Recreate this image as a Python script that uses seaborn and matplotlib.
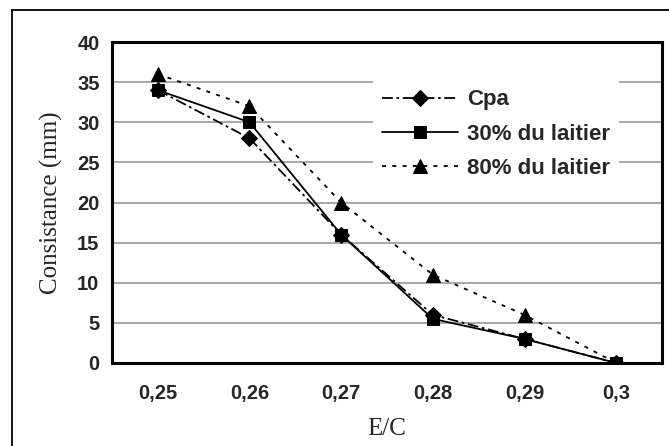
import matplotlib
matplotlib.use("Agg")
import matplotlib.pyplot as plt
import seaborn as sns
import pandas as pd
from matplotlib import patches

ec_labels = ["0,25", "0,26", "0,27", "0,28", "0,29", "0,3"]
cpa = [34, 28, 16, 6, 3, 0]
laitier30 = [34, 30, 16, 5.5, 3, 0]
laitier80 = [36, 32, 20, 11, 6, 0]
series = ["Cpa", "30% du laitier", "80% du laitier"]

df = pd.DataFrame({
    "pos": list(range(len(ec_labels))) * 3,
    "val": cpa + laitier30 + laitier80,
    "serie": [s for s in series for _ in ec_labels],
})

sns.set_style("white")
plt.rcParams["font.family"] = ["Liberation Sans", "DejaVu Sans"]

fig = plt.figure(figsize=(6.69, 4.46), dpi=100)
ax = fig.add_axes([112 / 669, 1 - 363 / 446, 550 / 669, 321 / 446])

# outer chart frame (cropped on the right and bottom)
fig.patches.append(patches.Rectangle((12 / 669, -0.1), 1.2, 1 - 10 / 446 + 0.1,
                                     transform=fig.transFigure, fill=False,
                                     edgecolor="black", linewidth=1.3))

sns.lineplot(df, x="pos", y="val", hue="serie", style="serie",
             hue_order=series, style_order=series,
             palette=["black"] * 3,
             dashes={"Cpa": (6, 2, 1.5, 2), "30% du laitier": "", "80% du laitier": (2.2, 3.5)},
             markers={"Cpa": "D", "30% du laitier": "s", "80% du laitier": "^"},
             markersize=9, linewidth=1.3, markeredgecolor="black", ax=ax)

msize = {"D": 8, "s": 8.5, "^": 10.5}
for ln in ax.lines:
    m = ln.get_marker()
    if m in msize:
        ln.set_markersize(msize[m])

ax.set_xlim(-0.5, 5.5)
ax.set_ylim(0, 40)
ax.set_yticks(range(0, 41, 5))
ax.set_xticks(range(len(ec_labels)))
ax.set_xticklabels(ec_labels)
ax.set_xticks([i - 0.5 for i in range(len(ec_labels) + 1)], minor=True)
ax.tick_params(axis="x", which="major", length=0, pad=15, labelsize=14.5)
ax.tick_params(axis="x", which="minor", length=5, width=1.2, color="black", direction="out")
ax.tick_params(axis="y", which="major", length=5, width=1.2, color="black",
               direction="out", pad=4, labelsize=14.5)
for t in ax.get_xticklabels() + ax.get_yticklabels():
    t.set_fontweight("bold")

ax.grid(False)
for v in range(5, 40, 5):
    ax.axhline(v, color="#a0a0a0", linewidth=1.3, zorder=0)
for s in ax.spines.values():
    s.set_visible(True)
    s.set_color("black")
    s.set_linewidth(2.2)

ax.set_xlabel("E/C", family="Liberation Serif", fontsize=18, labelpad=11)
ax.set_ylabel("Consistance (mm)", family="Liberation Serif", fontsize=18, labelpad=10)

leg = ax.legend(loc="upper left", bbox_to_anchor=(0.455, 0.915), frameon=True,
                facecolor="white", edgecolor="none", framealpha=1, fancybox=False,
                prop={"weight": "bold", "size": 16}, handlelength=3.4,
                handletextpad=0.4, labelspacing=0.6, borderpad=0.4)
for h in leg.legend_handles:
    h.set_color("black")
    h.set_markeredgecolor("black")
    m = h.get_marker()
    if m in msize:
        h.set_markersize(msize[m])

fig.savefig("out.png", dpi=100)
